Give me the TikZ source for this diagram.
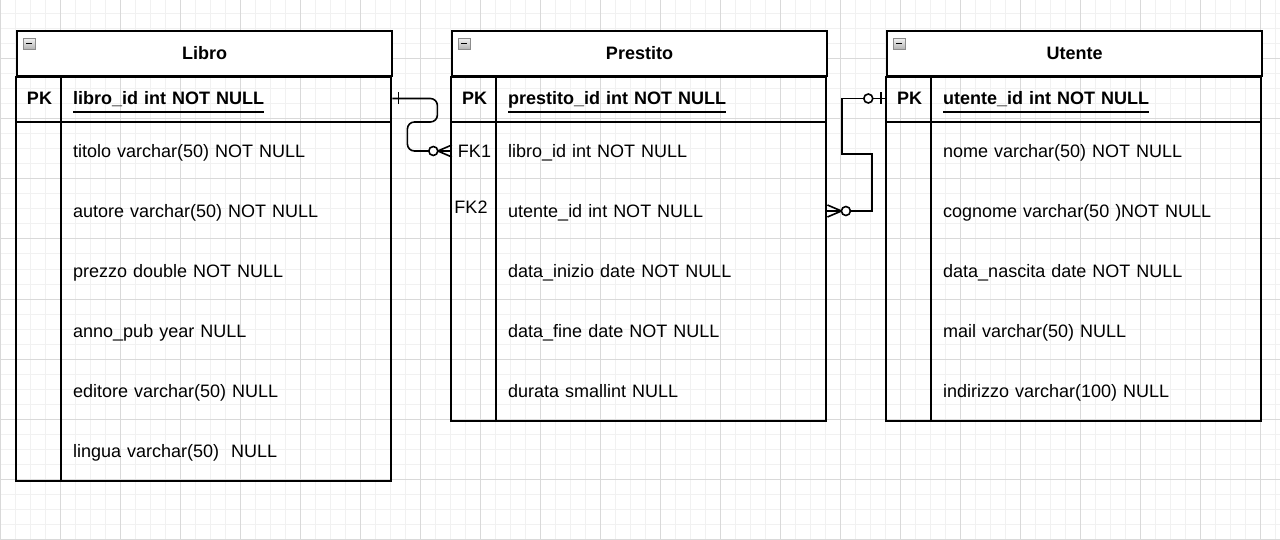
\documentclass[tikz,border=0pt]{standalone}
\usepackage{fontspec}
\setmainfont{Liberation Sans}
\usetikzlibrary{positioning}

\definecolor{gridmaj}{HTML}{D9D9D9}
\definecolor{gridmin}{HTML}{F1F1F1}

\newcommand{\erfont}{\fontsize{18}{22}\selectfont}
\newcommand{\keyname}[1]{\setbox0\hbox{#1}\rlap{\smash{\rule[-8.3pt]{\wd0}{1.8pt}}}\box0}

\tikzset{
  gridminor/.style={draw=gridmin, line width=1pt},
  gridmajor/.style={draw=gridmaj, line width=1pt},
  tabhead/.style={draw, fill=white, line width=1.6pt, minimum width=375pt, minimum height=45pt, text height=13pt, text depth=0pt, font=\erfont\bfseries},
  tabline/.style={line width=1.6pt},
  pkcell/.style={minimum width=45pt, minimum height=45pt, text height=13pt, text depth=0pt, inner sep=0pt, font=\erfont\bfseries},
  fkcell/.style={minimum width=45pt, minimum height=60pt, text height=13pt, text depth=0pt, inner sep=0pt, font=\erfont},
  keyrow/.style={anchor=west, minimum height=45pt, text width=308pt, inner xsep=11pt, inner ysep=0pt, text height=13pt, text depth=0pt, align=left, font=\erfont\bfseries},
  fieldrow/.style={anchor=west, minimum height=60pt, text width=308pt, inner xsep=11pt, inner ysep=0pt, text height=13pt, text depth=0pt, align=left, font=\erfont},
  rel/.style={line width=1.6pt},
  ring/.style={line width=1.6pt, fill=white},
  tabicon/.style={draw=gray!90, line width=0.8pt, top color=gray!10, bottom color=gray!60},
}

\begin{document}
\begin{tikzpicture}[x=1pt, y=-1pt]
  \useasboundingbox (0,0) rectangle (1280,540);
  \fill[white] (0,0) rectangle (1280,540);
  % grid
  \foreach \x in {0,15,...,1275} \draw[gridminor] (\x,0) -- (\x,540);
  \foreach \y in {14,29,...,539} \draw[gridminor] (0,\y) -- (1280,\y);
  \foreach \x in {0,60,...,1260} \draw[gridmajor] (\x,0) -- (\x,540);
  \foreach \y in {59,119,...,539} \draw[gridmajor] (0,\y) -- (1280,\y);

  % Libro
  \node[tabhead] (libro) at (204.5,53.5) {Libro};
  \draw[tabicon] ([xshift=7pt,yshift=-8pt]libro.north west) rectangle ++(12,11);
  \draw[line width=1.4pt] ([xshift=10pt,yshift=-13.5pt]libro.north west) -- ++(6,0);
  \draw[tabline] (libro.south west) rectangle ++(375,404);
  \draw[tabline] ([xshift=45pt]libro.south west) -- ++(0,404);
  \draw[tabline] ([yshift=-45pt]libro.south west) -- ++(375,0);
  \node[pkcell] (libropk) at (39.5,98.5) {PK};
  \node[keyrow] (libroid) at (62,98.5) {\keyname{libro\_id int NOT NULL}};
  \foreach \fld [count=\i] in {titolo varchar(50) NOT NULL, autore varchar(50) NOT NULL,
      prezzo double NOT NULL, anno\_pub year NULL, editore varchar(50) NULL, lingua varchar(50)\ \ NULL}
    \node[fieldrow] (libro-\i) at (62,91+60*\i) {\fld};

  % Prestito
  \node[tabhead] (prestito) at (639.5,53.5) {Prestito};
  \draw[tabicon] ([xshift=7pt,yshift=-8pt]prestito.north west) rectangle ++(12,11);
  \draw[line width=1.4pt] ([xshift=10pt,yshift=-13.5pt]prestito.north west) -- ++(6,0);
  \draw[tabline] (prestito.south west) rectangle ++(375,344);
  \draw[tabline] ([xshift=45pt]prestito.south west) -- ++(0,344);
  \draw[tabline] ([yshift=-45pt]prestito.south west) -- ++(375,0);
  \node[pkcell] (prestitopk) at (474.5,98.5) {PK};
  \node[keyrow] (prestitoid) at (497,98.5) {\keyname{prestito\_id int NOT NULL}};
  \node[fkcell] (fkone) at (474.5,151) {FK1};
  \node[fkcell, minimum height=20pt] (fktwo) at (471,207) {FK2};
  \foreach \fld [count=\i] in {libro\_id int NOT NULL, utente\_id int NOT NULL,
      data\_inizio date NOT NULL, data\_fine date NOT NULL, durata smallint NULL}
    \node[fieldrow] (prestito-\i) at (497,91+60*\i) {\fld};

  % Utente
  \node[tabhead] (utente) at (1074.5,53.5) {Utente};
  \draw[tabicon] ([xshift=7pt,yshift=-8pt]utente.north west) rectangle ++(12,11);
  \draw[line width=1.4pt] ([xshift=10pt,yshift=-13.5pt]utente.north west) -- ++(6,0);
  \draw[tabline] (utente.south west) rectangle ++(375,344);
  \draw[tabline] ([xshift=45pt]utente.south west) -- ++(0,344);
  \draw[tabline] ([yshift=-45pt]utente.south west) -- ++(375,0);
  \node[pkcell] (utentepk) at (909.5,98.5) {PK};
  \node[keyrow] (utenteid) at (932,98.5) {\keyname{utente\_id int NOT NULL}};
  \foreach \fld [count=\i] in {nome varchar(50) NOT NULL, cognome varchar(50 )NOT NULL,
      data\_nascita date NOT NULL, mail varchar(50) NULL, indirizzo varchar(100) NULL}
    \node[fieldrow] (utente-\i) at (932,91+60*\i) {\fld};

  % Libro -- Prestito (one to zero or many)
  \draw[rel, rounded corners=7pt] (libroid.east) -- ++(45,0) -- ++(0,23.5) -- ++(-30,0) |- (fkone.west);
  \draw[rel] ([xshift=6pt]libroid.east) ++(0,-6) -- ++(0,12);
  \draw[rel] ([xshift=-14pt]fkone.west) -- ++(14,-6) ([xshift=-14pt]fkone.west) -- ++(14,6);
  \draw[ring] ([xshift=-18.5pt]fkone.west) circle (4.5pt);

  % Utente -- Prestito (zero or one to zero or many)
  \draw[rel] (utentepk.west) -- ++(-45,0) -- ++(0,55.5) -- ++(30,0) |- (prestito-2.east);
  \draw[rel] ([xshift=-6pt]utentepk.west) ++(0,-6) -- ++(0,12);
  \draw[ring] ([xshift=-18.5pt]utentepk.west) circle (4.5pt);
  \draw[rel] ([xshift=14pt]prestito-2.east) -- ++(-14,-6) ([xshift=14pt]prestito-2.east) -- ++(-14,6);
  \draw[ring] ([xshift=18.5pt]prestito-2.east) circle (4.5pt);
\end{tikzpicture}
\end{document}
